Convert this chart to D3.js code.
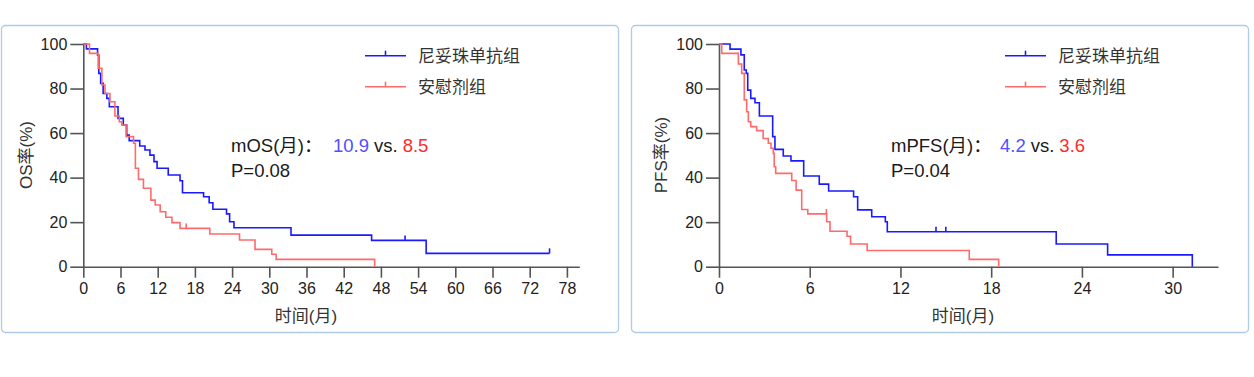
<!DOCTYPE html>
<html lang="zh">
<head>
  <meta charset="UTF-8">
  <title>OS / PFS</title>
  <script src="https://d3js.org/d3.v7.min.js"></script>
  <style>
    body { margin: 0; background: #fff; }
  </style>
</head>
<body>
</body>
<script>
  // ---- data (months, survival %) ----
  // OS: nimotuzumab group
  const osNimoTime = [0, 0.5, 2.3, 2.5, 2.8, 3.2, 3.8, 4.2, 5.6, 6.45, 7.0, 7.4, 9.1, 9.95, 10.75, 11.4, 11.9, 13.7, 15.6, 16.0, 19.4, 20.3, 20.9, 23.1, 23.6, 24.3, 33.5, 46.5, 55.3, 75.2];
  const osNimoSurv = [100, 97.8, 95, 86.8, 82.3, 77.8, 75.6, 71.8, 66.6, 63.6, 59.1, 56.6, 54.2, 52.4, 50.1, 47.2, 44.2, 41.2, 38.6, 33.2, 31.4, 28.7, 25.8, 23.7, 20.2, 17.5, 14.2, 11.8, 6.0, 6.0];
  const osNimoCensor = [51.9, 75.2];
  // OS: placebo group
  const osPlacTime = [0, 1.0, 2.4, 3.0, 3.5, 4.3, 5.1, 5.8, 6.2, 6.9, 8.1, 8.4, 8.9, 9.7, 10.9, 11.6, 12.4, 13.3, 14.3, 15.6, 20.4, 25.2, 27.7, 30.4, 31.1, 47.0];
  const osPlacSurv = [100, 95.8, 89.1, 81.6, 77.8, 74.1, 67.7, 65.1, 63.6, 58.4, 55.4, 44.2, 39.2, 35.2, 29.9, 27.7, 24.7, 22.2, 19.8, 17.2, 14.7, 12.0, 7.8, 5.6, 3.3, 0];
  const osPlacCensor = [16.6];

  // PFS: nimotuzumab group
  const pfsNimoTime = [0, 0.73, 1.45, 1.67, 1.8, 1.9, 2.1, 2.38, 2.67, 3.55, 3.7, 4.25, 4.76, 5.6, 6.63, 7.25, 8.9, 9.17, 10.1, 11.0, 11.13, 22.3, 25.7, 31.3];
  const pfsNimoSurv = [100, 97.7, 95.1, 88.3, 86.8, 79.3, 75.6, 73.6, 67.7, 58.4, 52.7, 49.7, 47.5, 40.7, 37.1, 34.0, 31.4, 25.5, 22.4, 20.2, 15.7, 10.2, 5.3, 0];
  const pfsNimoCensor = [14.35, 15.0];
  // PFS: placebo group
  const pfsPlacTime = [0, 0.18, 1.28, 1.5, 1.67, 1.83, 1.94, 2.1, 2.49, 2.92, 3.26, 3.44, 3.59, 3.65, 3.75, 4.81, 5.1, 5.47, 5.87, 7.12, 7.34, 8.47, 8.7, 9.8, 16.55, 18.5];
  const pfsPlacSurv = [100, 95.8, 91, 86.8, 74.9, 69.6, 65.1, 62.9, 61.1, 57.6, 55.4, 53.2, 50.9, 44.9, 41.9, 38.7, 34.4, 25.7, 23.7, 20.2, 15.9, 13.7, 10.2, 7.3, 3.3, 0];
  const pfsPlacCensor = [7.1];

  const groupNames = ["尼妥珠单抗组", "安慰剂组"];
  const yTicks = [0, 20, 40, 60, 80, 100];
  const osXTicks = [0, 6, 12, 18, 24, 30, 36, 42, 48, 54, 60, 66, 72, 78];
  const pfsXTicks = [0, 6, 12, 18, 24, 30];

  const blue = "#1a1aff";
  const red = "#ff6b6b";

  const svg = d3.select("body")
    .append("svg")
    .attr("width", 1254)
    .attr("height", 377)
    .style("display", "block")
    .style("font-family", "'Liberation Sans', Arial, 'Noto Sans CJK SC', sans-serif");

  svg.append("rect").attr("width", 1254).attr("height", 377).attr("fill", "#fff");

  function toPoints(time, surv) {
    return time.map((t, i) => [t, surv[i]]);
  }

  // survival value at time t (step function)
  function survAt(time, surv, t) {
    const i = d3.bisectRight(time, t) - 1;
    return surv[Math.max(0, i)];
  }

  function drawPanel(p) {
    const g = svg.append("g").attr("transform", `translate(${p.left},0)`);

    // panel frame
    g.append("rect")
      .attr("x", 1.5)
      .attr("y", 25.5)
      .attr("width", 617)
      .attr("height", 307)
      .attr("rx", 4)
      .attr("fill", "none")
      .attr("stroke", "#aecbe8")
      .attr("stroke-width", 1.3);

    const x = d3.scaleLinear().domain([0, p.xMax]).range([p.x0, p.x1]);
    const y = d3.scaleLinear().domain([0, 100]).range([266.7, 44]);

    // axes
    const xAxis = g.append("g")
      .attr("transform", `translate(0,${y(0)})`)
      .call(d3.axisBottom(x).tickValues(p.xTicks).tickSize(11).tickSizeOuter(0).tickPadding(5));
    const yAxis = g.append("g")
      .attr("transform", `translate(${x(0)},0)`)
      .call(d3.axisLeft(y).tickValues(yTicks).tickSize(13).tickSizeOuter(0).tickPadding(3));
    [xAxis, yAxis].forEach(a => {
      a.selectAll("path, line").attr("stroke", "#555").attr("stroke-width", 1.6);
      a.selectAll("text").attr("fill", "#222").style("font-size", "16px").style("font-family", null);
    });

    // axis titles
    g.append("text")
      .attr("x", p.xLabelX)
      .attr("y", 322)
      .attr("text-anchor", "middle")
      .attr("fill", "#333")
      .style("font-size", "17px")
      .text("时间(月)");
    g.append("text")
      .attr("transform", `translate(${p.yLabelX},155) rotate(-90)`)
      .attr("text-anchor", "middle")
      .attr("fill", "#333")
      .style("font-size", "17px")
      .text(p.yLabel);

    // curves
    const line = d3.line()
      .x(d => x(d[0]))
      .y(d => y(d[1]))
      .curve(d3.curveStepAfter);

    p.series.forEach(s => {
      g.append("path")
        .datum(toPoints(s.time, s.surv))
        .attr("fill", "none")
        .attr("stroke", s.color)
        .attr("stroke-width", 1.6)
        .attr("d", line);

      g.selectAll(null)
        .data(s.censor)
        .enter()
        .append("line")
        .attr("x1", d => x(d))
        .attr("x2", d => x(d))
        .attr("y1", d => y(survAt(s.time, s.surv, d)))
        .attr("y2", d => y(survAt(s.time, s.surv, d)) - 5)
        .attr("stroke", s.color)
        .attr("stroke-width", 1.6);
    });

    // legend
    p.series.forEach((s, i) => {
      const ly = 55.7 + i * 31;
      g.append("line")
        .attr("x1", p.legendX).attr("x2", p.legendX + 41)
        .attr("y1", ly).attr("y2", ly)
        .attr("stroke", s.color).attr("stroke-width", 1.6);
      g.append("line")
        .attr("x1", p.legendX + 20.5).attr("x2", p.legendX + 20.5)
        .attr("y1", ly).attr("y2", ly - 5)
        .attr("stroke", s.color).attr("stroke-width", 1.6);
      g.append("text")
        .attr("x", p.legendX + 53)
        .attr("y", ly + 6)
        .attr("fill", "#333")
        .style("font-size", "17px")
        .text(groupNames[i]);
    });

    // median annotation
    const ann = g.append("text")
      .attr("y", 152)
      .style("font-size", "18.5px")
      .attr("fill", "#1a1a1a");
    ann.append("tspan").attr("x", p.annX).text(p.annLabel);
    ann.append("tspan").attr("x", p.annX + p.numOffset).attr("fill", "#5050ff").text(p.medians[0]);
    ann.append("tspan").attr("dx", 5).text("vs.");
    ann.append("tspan").attr("dx", 5).attr("fill", "#ff2a2a").text(p.medians[1]);
    g.append("text")
      .attr("x", p.annX)
      .attr("y", 177)
      .style("font-size", "18.5px")
      .attr("fill", "#1a1a1a")
      .text(p.pValue);
  }

  drawPanel({
    left: 0,
    xMax: 80, x0: 83.3, x1: 579.3,
    xTicks: osXTicks,
    xLabelX: 306, yLabelX: 32, yLabel: "OS率(%)",
    legendX: 365,
    annX: 231, numOffset: 102, annLabel: "mOS(月)：",
    medians: ["10.9", "8.5"], pValue: "P=0.08",
    series: [
      {time: osNimoTime, surv: osNimoSurv, censor: osNimoCensor, color: blue},
      {time: osPlacTime, surv: osPlacSurv, censor: osPlacCensor, color: red}
    ]
  });

  drawPanel({
    left: 630,
    xMax: 33, x0: 89, x1: 588,
    xTicks: pfsXTicks,
    xLabelX: 333, yLabelX: 667 - 630, yLabel: "PFS率(%)",
    legendX: 375,
    annX: 261, numOffset: 109, annLabel: "mPFS(月)：",
    medians: ["4.2", "3.6"], pValue: "P=0.04",
    series: [
      {time: pfsNimoTime, surv: pfsNimoSurv, censor: pfsNimoCensor, color: blue},
      {time: pfsPlacTime, surv: pfsPlacSurv, censor: pfsPlacCensor, color: red}
    ]
  });
</script>
</html>
